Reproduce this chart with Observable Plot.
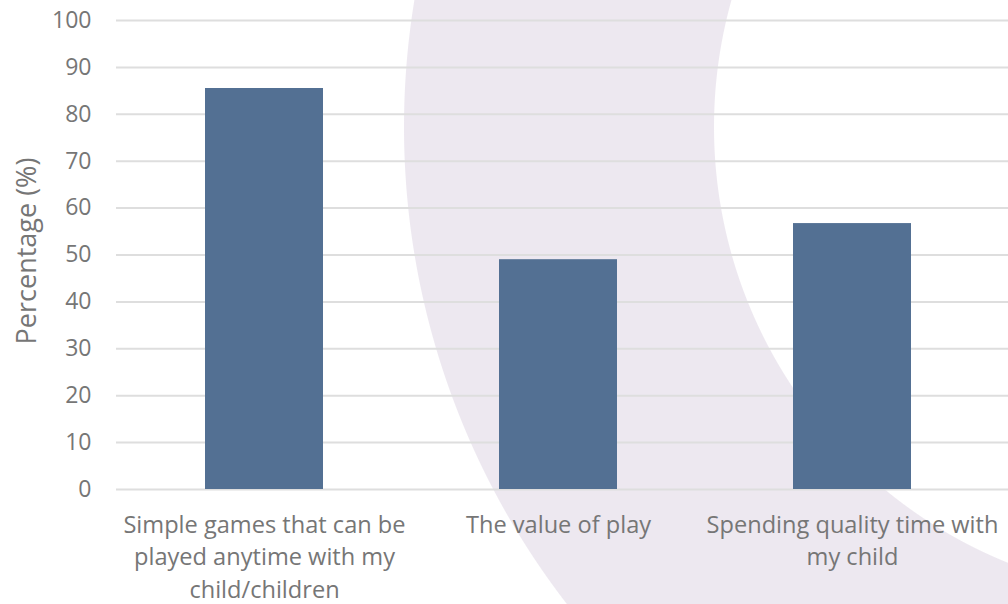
<!DOCTYPE html>
<html>
<head>
<meta charset="utf-8">
<script src="https://cdn.jsdelivr.net/npm/d3@7"></script>
<script src="https://cdn.jsdelivr.net/npm/@observablehq/plot@0.6"></script>
<style>
  html, body { margin: 0; padding: 0; background: #ffffff; }
  #chart {
    position: relative;
    width: 1008px;
    height: 604px;
    overflow: hidden;
    background: radial-gradient(circle at 1184px 127px,
      rgba(237,232,240,0) 469.5px, #ede8f0 470.5px,
      #ede8f0 779.5px, rgba(237,232,240,0) 780.5px);
  }
</style>
</head>
<body>
<div id="chart"></div>
<script>
// Data
const categories = [
  "Simple games that can be played anytime with my child/children",
  "The value of play",
  "Spending quality time with my child"
];
const tickLabels = [
  "Simple games that can be\nplayed anytime with my\nchild/children",
  "The value of play",
  "Spending quality time with\nmy child"
];
const values = [85.5, 49, 56.7];
const yTicks = [0, 10, 20, 30, 40, 50, 60, 70, 80, 90, 100];
const yTitle = "Percentage (%)";

const data = categories.map((c, i) => ({category: c, value: values[i]}));

const plot = Plot.plot({
  width: 1008,
  height: 604,
  marginTop: 20,
  marginBottom: 115,
  marginLeft: 116,
  marginRight: 0,
  style: {
    background: "transparent",
    fontFamily: "'Open Sans', sans-serif",
    fontSize: "23px",
    color: "#767676"
  },
  x: {domain: categories, range: [117, 999], paddingInner: 0.6, paddingOuter: 0.3, label: null},
  y: {domain: [0, 100], label: null},
  marks: [
    Plot.gridY(yTicks, {stroke: "#dedede", strokeOpacity: 1, strokeWidth: 2}),
    Plot.barY(data, {x: "category", y: "value", fill: "#537093"}),
    Plot.axisY({ticks: yTicks, tickSize: 0, tickPadding: 25, label: null, fill: "#767676", fontSize: 23}),
    Plot.axisX({
      tickSize: 0,
      tickPadding: 20,
      label: null,
      fill: "#767676",
      fontSize: 23.6,
      lineHeight: 1.38,
      tickFormat: (d) => tickLabels[categories.indexOf(d)]
    }),
    Plot.text([yTitle], {
      frameAnchor: "left",
      text: (d) => d,
      rotate: -90,
      dx: -89,
      dy: -4,
      fill: "#767676",
      fontSize: 27,
      textAnchor: "middle"
    })
  ]
});
document.getElementById("chart").appendChild(plot);
</script>
</body>
</html>
